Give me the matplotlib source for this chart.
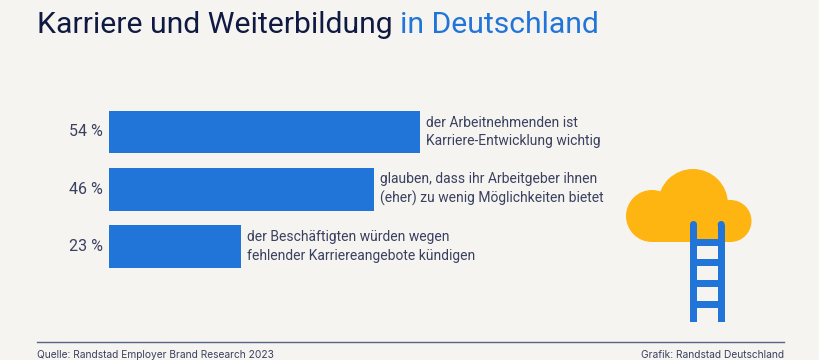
import matplotlib
matplotlib.use("Agg")
import matplotlib.pyplot as plt
from matplotlib.patches import Circle, Rectangle

values = [54, 46, 23]
value_labels = ["54 %", "46 %", "23 %"]
descriptions = [
    "der Arbeitnehmenden ist\nKarriere-Entwicklung wichtig",
    "glauben, dass ihr Arbeitgeber ihnen\n(eher) zu wenig Möglichkeiten bietet",
    "der Beschäftigten würden wegen\nfehlender Karriereangebote kündigen",
]
title_dark = "Karriere und Weiterbildung "
title_blue = "in Deutschland"
source = "Quelle: Randstad Employer Brand Research 2023"
credit = "Grafik: Randstad Deutschland"

BG = "#f5f4f0"
BLUE = "#2175d9"
NAVY = "#0f1941"
TEXT = "#3a4060"
YELLOW = "#ffb511"

plt.rcParams["font.family"] = ["Roboto", "DejaVu Sans"]

fig = plt.figure(figsize=(8.2, 3.6), dpi=100, facecolor=BG)

# overlay in pixel coordinates for title, footer and the icon
page = fig.add_axes([0, 0, 1, 1])
page.set_xlim(0, 820)
page.set_ylim(360, 0)
page.axis("off")

# bars
ax = fig.add_axes([109 / 820, 1 - 275 / 360, 320 / 820, 170 / 360])
ax.patch.set_alpha(0)
ax.set_xlim(0, 320 / 5.76)
ax.set_ylim((275 - 132) / 57.25, (105 - 132) / 57.25)
ax.axis("off")
pos = list(range(len(values)))
ax.barh(pos, values, height=0.75, color=BLUE)
for p, v, lab, d in zip(pos, values, value_labels, descriptions):
    ax.annotate(lab, (0, p), xytext=(-6, 0), textcoords="offset pixels", ha="right",
                va="center", fontsize=11.5, color=TEXT, annotation_clip=False)
    ax.annotate(d, (v, p), xytext=(6, 0), textcoords="offset pixels", ha="left",
                va="center", fontsize=10, color=TEXT, linespacing=1.38,
                annotation_clip=False)

# title in two colours
t1 = page.text(37, 33, title_dark, fontsize=21.7, color=NAVY, va="baseline")
page.annotate(title_blue, xy=(1, 0), xycoords=t1, va="bottom", ha="left",
              fontsize=21.7, color=BLUE)

# footer
page.plot([37, 784], [342, 342], color="#5a6488", lw=1)
page.text(37, 358, source, fontsize=7.35, color=TEXT, va="baseline", family="Inter")
page.text(784, 358, credit, fontsize=7.35, color=TEXT, ha="right", va="baseline", family="Inter")

# cloud
for c, r in [((652, 216), 26), ((693, 204), 35), ((730.5, 221), 21)]:
    page.add_patch(Circle(c, r, color=YELLOW, lw=0))
page.add_patch(Rectangle((652, 215), 79, 26.7, color=YELLOW, lw=0))

# ladder
for x in (690, 717.7):
    page.add_patch(Rectangle((x, 224.5), 7, 97.2, color=BLUE, lw=0))
    page.add_patch(Circle((x + 3.5, 224.5), 3.5, color=BLUE, lw=0))
for y in (238.7, 259.3, 280, 300.7):
    page.add_patch(Rectangle((690, y), 34.7, 7, color=BLUE, lw=0))

fig.savefig("out.png", dpi=100, facecolor=BG)
